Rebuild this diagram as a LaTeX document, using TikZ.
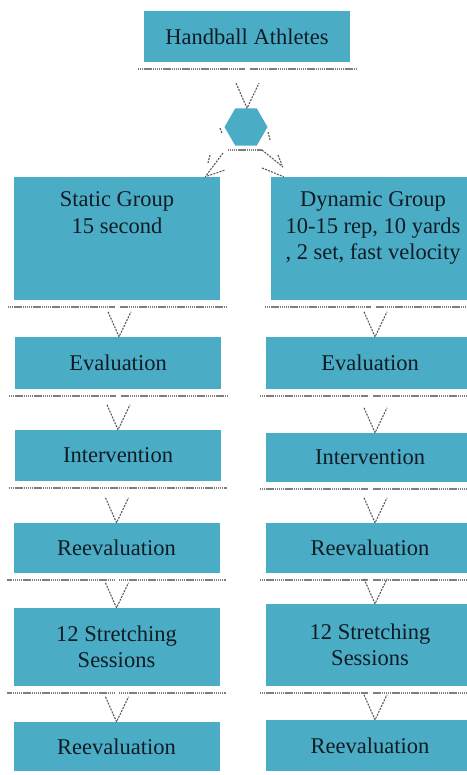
\documentclass[tikz,border=0pt]{standalone}
\usepackage{fontspec}
\setmainfont{Liberation Serif}
\usetikzlibrary{shapes.geometric,calc}
\definecolor{boxfill}{HTML}{4BACC6}
\definecolor{boxtext}{HTML}{101C24}
\definecolor{dotgray}{HTML}{7E7E7E}
\definecolor{vgray}{HTML}{5A5A5A}
\newcommand\ulgap[1]{%
  \draw[shline] ($(#1.south west)+(-6,6.5)$) -- ($(#1.south)+(-2.5,6.5)$);
  \draw[shline] ($(#1.south)+(2.5,6.5)$) -- ($(#1.south east)+(6,6.5)$);}
\newcommand\ulfull[1]{%
  \draw[shline] ($(#1.south west)+(-6,6.5)$) -- ($(#1.south east)+(6,6.5)$);}
\newcommand\vtip[2][0]{%
  \draw[vline] ($(#2)+(#1-11,-25)$) -- ($(#2)+(#1,0)$) -- ($(#2)+(#1+12,-25)$);}
\begin{document}
\begin{tikzpicture}[x=1pt,y=-1pt,
  box/.style={rectangle, fill=boxfill, draw=none, inner sep=0pt, text=boxtext,
    font=\fontsize{22.5}{26.5}\selectfont, align=center, minimum width=206pt},
  boxtxt/.style={inner sep=0pt, text=boxtext, font=\fontsize{22.5}{26.5}\selectfont, align=center},
  shline/.style={draw=dotgray, line width=2pt, dash pattern=on 1.3pt off 0.6pt},
  vline/.style={draw=vgray, line width=1.1pt, dash pattern=on 2pt off 1.2pt, line join=round}]
\useasboundingbox (0,0) rectangle (466,775);
\fill[white] (0,0) rectangle (466,775);

% top
\node[box, minimum height=51pt] (top) at (247,36.5) {Handball Athletes};
\node[regular polygon, regular polygon sides=6, minimum size=43pt, inner sep=0pt, fill=boxfill] (hex) at (246,127) {};

% group boxes
\node[box, minimum height=123pt] (st) at (117,238.5) {};
\node[boxtxt, anchor=north] (stt) at ($(st.north)+(0,15)$) {Static Group\\15 second};
\node[box, minimum width=204pt, minimum height=123pt] (dy) at (373,238.5) {};
\node[boxtxt, anchor=north] (dyt) at ($(dy.north)+(0,15)$) {Dynamic Group\\10-15 rep, 10 yards\\, 2 set, fast velocity};

% left column
\node[box, minimum height=52pt] (ev1) at (118,363) {Evaluation};
\node[box, minimum height=51pt] (in1) at (118,455.5) {Intervention};
\node[box, minimum height=50pt] (re1) at (116.5,548) {Reevaluation};
\node[box, minimum height=78pt] (s1) at (116.5,647) {12 Stretching\\Sessions};
\node[box, minimum height=49pt] (f1) at (116.5,746.5) {Reevaluation};

% right column
\node[box, minimum width=208pt, minimum height=52pt] (ev2) at (370,363) {Evaluation};
\node[box, minimum width=208pt, minimum height=49pt] (in2) at (370,457.5) {Intervention};
\node[box, minimum width=208pt, minimum height=50pt] (re2) at (370,548) {Reevaluation};
\node[box, minimum width=208pt, minimum height=82pt] (s2) at (370,645) {12 Stretching\\Sessions};
\node[box, minimum width=208pt, minimum height=51pt] (f2) at (370,745.5) {Reevaluation};

% dotted shadow lines
\ulgap{top}
\ulgap{st} \ulgap{dy}
\ulgap{ev1} \ulgap{ev2}
\ulfull{in1} \ulgap{in2}
\ulgap{re1} \ulgap{re2}
\ulgap{s1} \ulgap{s2}

% hexagon connectors
\vtip[1]{hex.north}
\draw[shline, line width=1.4pt] ($(hex.center)+(-18,23)$) -- ($(hex.center)+(16,23)$);
\draw[vline] ($(hex.center)+(-26,1)$) -- ($(hex.center)+(-24,6)$);
\draw[vline] ($(hex.center)+(22,5)$) -- ($(hex.center)+(24,13)$);
\coordinate (tipL) at ($(st.north east)+(-15,0)$);
\coordinate (tipR) at ($(dy.north west)+(13,0)$);
\draw[vline] ($(hex.center)+(-23,26)$) -- (tipL) -- ($(hex.center)+(-21,43)$);
\draw[vline] ($(hex.center)+(-36,28)$) -- ($(hex.center)+(-38,36)$);
\draw[vline] ($(hex.center)+(16,23)$) -- ($(hex.center)+(37,40)$);
\draw[vline] ($(hex.center)+(32,28)$) -- ($(hex.center)+(36,38)$);
\draw[vline] ($(hex.center)+(16,41)$) -- (tipR);

% V arrow tips
\vtip[1]{ev1.north} \vtip[5]{ev2.north}
\vtip{in1.north} \vtip[5]{in2.north}
\vtip{re1.north} \vtip[5]{re2.north}
\vtip{s1.north} \vtip[5]{s2.north}
\vtip{f1.north} \vtip[5]{f2.north}
\end{tikzpicture}
\end{document}
